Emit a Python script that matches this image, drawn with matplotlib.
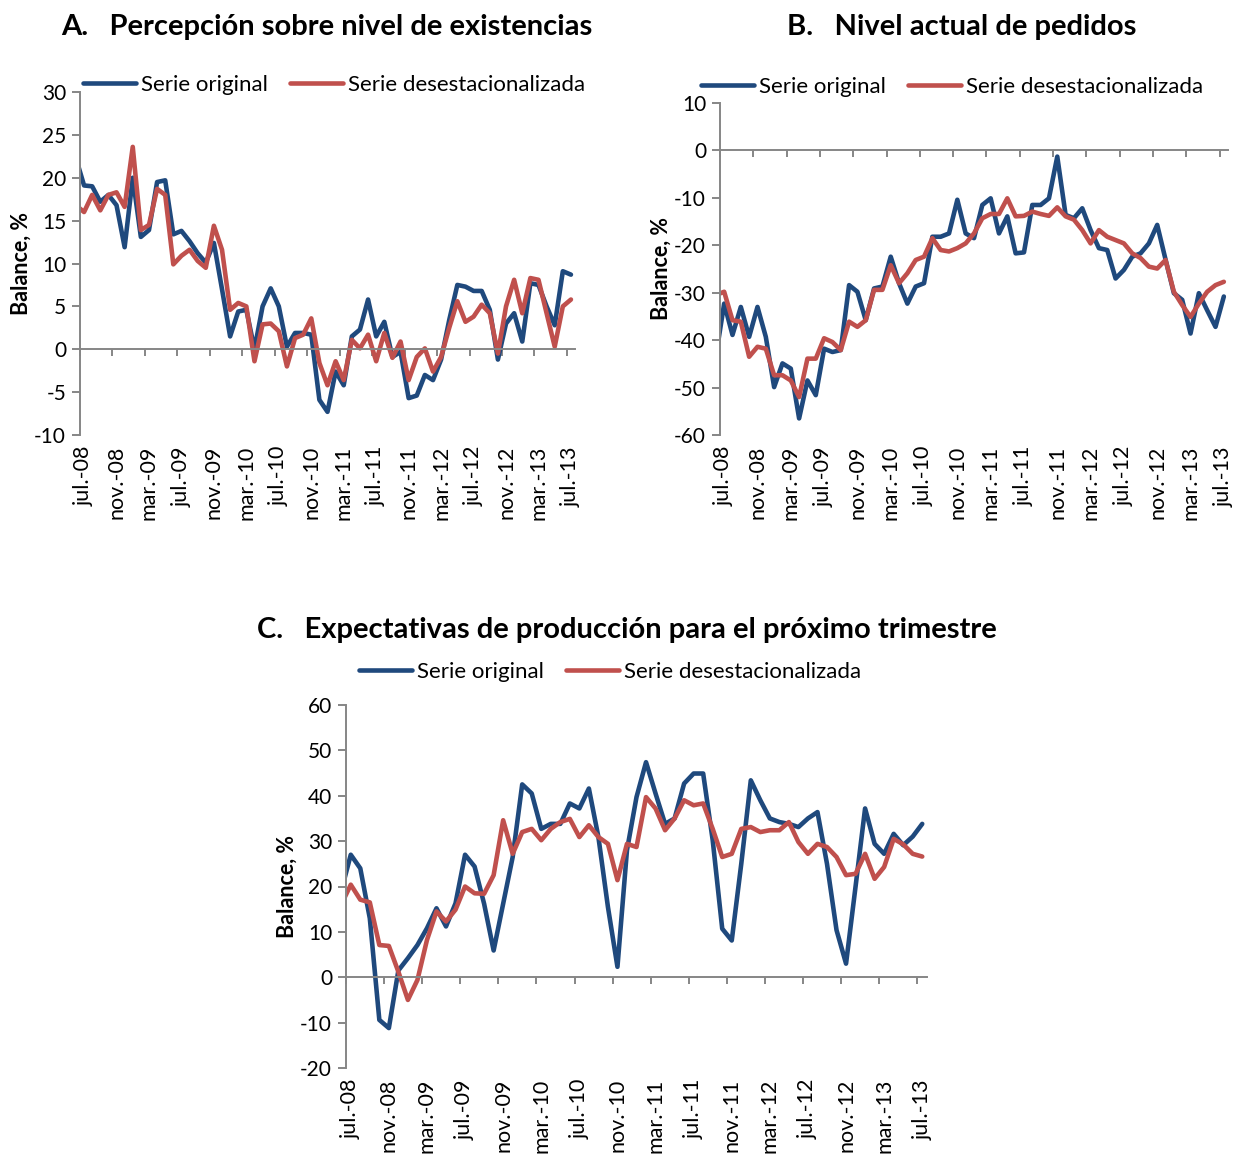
import matplotlib
matplotlib.use("Agg")
from matplotlib import pyplot as plt

# monthly series jul-08 .. jul-13; the first value (jun-08) only shows as the
# clipped stub at the left edge of each panel
x_vals = list(range(-1, 61))

tick_labels = ["jul.-08", "nov.-08", "mar.-09", "jul.-09", "nov.-09", "mar.-10",
               "jul.-10", "nov.-10", "mar.-11", "jul.-11", "nov.-11", "mar.-12",
               "jul.-12", "nov.-12", "mar.-13", "jul.-13"]

a_original = [22.3, 19.1, 19.0, 17.2, 18.0, 16.8, 11.9, 20.0, 13.1, 13.9, 19.5,
              19.7, 13.4, 13.8, 12.6, 11.2, 10.1, 12.4, 7.0, 1.5, 4.4,
              4.6, 0.0, 5.0, 7.1, 5.0, 0.3, 1.9, 1.9, 1.7, -5.9,
              -7.3, -2.6, -4.2, 1.5, 2.3, 5.8, 1.5, 3.2, -0.9, -0.3,
              -5.7, -5.4, -3.0, -3.6, -1.2, 3.4, 7.5, 7.3, 6.8, 6.8,
              4.6, -1.2, 3.0, 4.2, 0.9, 7.7, 7.5, 5.0, 2.8, 9.1, 8.7]
a_desest = [16.8, 16.0, 18.0, 16.2, 18.0, 18.3, 16.6, 23.6, 13.9, 14.5, 18.7,
            18.0, 9.9, 10.9, 11.6, 10.3, 9.5, 14.4, 11.6, 4.6, 5.4,
            5.0, -1.4, 2.9, 3.0, 2.1, -2.0, 1.3, 1.7, 3.6, -1.6,
            -4.2, -1.4, -3.6, 1.1, 0.1, 1.7, -1.4, 1.9, -1.0, 0.9,
            -3.6, -0.9, 0.1, -2.6, -0.9, 2.5, 5.6, 3.2, 3.8, 5.2,
            4.2, -0.5, 5.0, 8.1, 4.2, 8.3, 8.1, 4.2, 0.3, 5.0, 5.8]

b_original = [-43.5, -32.3, -38.9, -33.0, -39.3, -33.0, -39.3, -49.9, -44.9, -46.0, -56.5,
              -48.5, -51.6, -41.8, -42.5, -42.1, -28.4, -29.8, -35.8, -29.1, -28.7,
              -22.4, -28.0, -32.3, -28.7, -28.0, -18.2, -18.2, -17.5, -10.4, -17.5,
              -18.5, -11.5, -10.1, -17.5, -13.9, -21.7, -21.5, -11.5, -11.5, -10.1,
              -1.3, -13.6, -14.3, -12.2, -16.8, -20.6, -21.0, -27.0, -25.2, -22.4,
              -21.7, -19.6, -15.7, -23.0, -30.1, -31.5, -38.6, -30.1, -33.7, -37.2, -30.8]
b_desest = [-30.5, -29.8, -35.8, -36.1, -43.5, -41.4, -41.8, -47.4, -47.4, -48.5, -52.0,
            -43.9, -43.9, -39.6, -40.4, -42.1, -36.1, -37.2, -35.8, -29.4, -29.4,
            -24.2, -28.0, -25.9, -23.1, -22.4, -18.5, -21.0, -21.3, -20.6, -19.6,
            -17.5, -14.3, -13.4, -13.4, -10.1, -13.9, -13.8, -12.9, -13.4, -13.8,
            -12.0, -13.9, -14.6, -16.8, -19.6, -16.8, -18.2, -18.9, -19.6, -21.7,
            -22.7, -24.5, -24.9, -23.1, -29.8, -32.6, -35.1, -32.3, -29.8, -28.4, -27.7]

c_original = [19.0, 27.0, 24.0, 13.0, -9.4, -11.2, 1.5, 4.2, 7.1, 10.8, 15.2,
              11.2, 16.3, 27.0, 24.4, 16.2, 5.9, 16.2, 26.5, 42.5, 40.5,
              32.7, 33.8, 33.8, 38.3, 37.2, 41.6, 30.9, 15.5, 2.3, 28.0,
              39.7, 47.4, 40.5, 33.8, 35.0, 42.7, 44.9, 44.9, 30.2, 10.7,
              8.1, 25.0, 43.4, 39.0, 35.0, 34.2, 33.8, 33.1, 35.0, 36.4,
              25.0, 10.4, 3.0, 20.0, 37.2, 29.4, 27.2, 31.6, 29.1, 31.0, 33.8]
c_desest = [16.0, 20.4, 17.1, 16.5, 7.1, 6.9, 1.2, -5.0, -0.6, 8.2, 14.5,
            12.3, 14.9, 20.0, 18.5, 18.4, 22.5, 34.6, 27.2, 32.0, 32.7,
            30.2, 32.7, 34.2, 34.9, 30.9, 33.5, 30.9, 29.4, 21.4, 29.4,
            28.7, 39.7, 37.2, 32.4, 35.0, 39.0, 37.9, 38.3, 32.7, 26.5,
            27.2, 32.7, 33.1, 32.0, 32.4, 32.4, 34.2, 29.8, 27.2, 29.4,
            28.7, 26.5, 22.5, 22.8, 27.2, 21.7, 24.3, 30.5, 29.3, 27.2, 26.6]

BLUE = "#1F497D"
RED = "#C0504D"
GRAY = "#868686"
FONT = "Lato"

plt.rcParams["font.family"] = [FONT, "DejaVu Sans"]
plt.rcParams["axes.unicode_minus"] = False


def draw_panel(fig, rect, original, desest, ylim, ystep, title, title_xy, legend_xy):
    ax = fig.add_axes(rect)
    ax.plot(x_vals, original, color=BLUE, lw=3.3, solid_joinstyle="round",
            solid_capstyle="round", label="Serie original")
    ax.plot(x_vals, desest, color=RED, lw=3.3, solid_joinstyle="round",
            solid_capstyle="round", label="Serie desestacionalizada")
    ax.set_xlim(-0.5, 60.5)
    ax.set_ylim(*ylim)
    ax.set_yticks(range(ylim[0], ylim[1] + 1, ystep))

    # category axis sits at zero, tick marks between every 4th category
    for side in ("top", "right"):
        ax.spines[side].set_visible(False)
    ax.spines["bottom"].set_position(("data", 0))
    for side in ("bottom", "left"):
        ax.spines[side].set_color(GRAY)
        ax.spines[side].set_linewidth(1.4)
    ax.set_xticks([k - 0.5 for k in range(0, 61, 4)])
    ax.set_xticklabels([])
    ax.tick_params(axis="x", direction="out", length=5, width=1.4, color=GRAY)
    ax.tick_params(axis="y", direction="out", length=6, width=1.4, color=GRAY,
                   labelsize=15, pad=4)

    # month labels at the bottom of the plot area
    sec = ax.secondary_xaxis("bottom")
    sec.set_xticks(list(range(0, 61, 4)), labels=tick_labels, rotation=90)
    sec.tick_params(length=0, labelsize=15.5, pad=8)
    sec.spines["bottom"].set_visible(False)

    ax.set_ylabel("Balance, %", fontsize=15.5, fontweight="bold", labelpad=2)

    fig.text(title_xy[0], title_xy[1], title, ha="center", va="center",
             fontsize=21, fontweight="bold")
    fig.legend(handles=ax.get_lines(), loc="center", bbox_to_anchor=legend_xy,
               ncol=2, frameon=False, fontsize=16, handlelength=2.4,
               handletextpad=0.2, columnspacing=1.0, borderaxespad=0)
    return ax


def main():
    fig = plt.figure(figsize=(12.34, 11.57), dpi=100)

    draw_panel(fig, [80 / 1234, 1 - 435 / 1157, 495 / 1234, 343 / 1157],
               a_original, a_desest, (-10, 30), 5,
               "A.   Percepción sobre nivel de existencias",
               (327 / 1234, 1 - 27 / 1157), (334 / 1234, 1 - 85 / 1157))
    draw_panel(fig, [720 / 1234, 1 - 435 / 1157, 508 / 1234, 332 / 1157],
               b_original, b_desest, (-60, 10), 10,
               "B.   Nivel actual de pedidos",
               (962 / 1234, 1 - 27 / 1157), (952 / 1234, 1 - 87 / 1157))
    draw_panel(fig, [346 / 1234, 1 - 1068 / 1157, 581 / 1234, 363 / 1157],
               c_original, c_desest, (-20, 60), 10,
               "C.   Expectativas de producción para el próximo trimestre",
               (627 / 1234, 1 - 630 / 1157), (610 / 1234, 1 - 672 / 1157))

    fig.savefig("out.png", dpi=100)


if __name__ == '__main__':
    main()
